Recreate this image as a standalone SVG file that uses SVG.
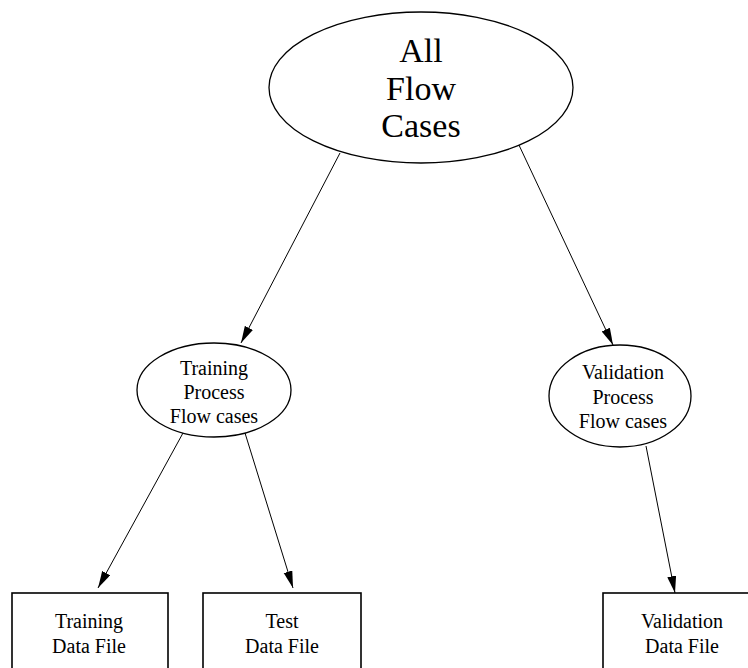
<svg xmlns="http://www.w3.org/2000/svg" width="748" height="668" viewBox="0 0 748 668">
  <style>
    .shape { fill: #fff; stroke: #000; stroke-width: 1.3; }
    .box { fill: #fff; stroke: #000; stroke-width: 1.6; }
    .lbl { font-family: "Liberation Serif", "Times New Roman", serif; fill: #000; text-anchor: middle; }
    .big { font-size: 34px; }
    .small { font-size: 20px; }
    .edge { stroke: #000; stroke-width: 1; fill: none; marker-end: url(#head); }
  </style>
  <defs>
    <marker id="head" markerUnits="userSpaceOnUse" markerWidth="18" markerHeight="10" refX="17" refY="4.5" orient="auto">
      <path d="M0,0 L17,4.5 L0,9 z" fill="#000"/>
    </marker>
  </defs>
  <rect width="748" height="668" fill="#fff"/>

  <g id="connectors">
    <line class="edge" x1="340" y1="153" x2="241" y2="343"/>
    <line class="edge" x1="518" y1="143" x2="613" y2="345"/>
    <line class="edge" x1="183" y1="433" x2="98" y2="588"/>
    <line class="edge" x1="245" y1="433" x2="293" y2="588"/>
    <line class="edge" x1="646" y1="446" x2="675" y2="593"/>
  </g>

  <g id="all-flow-cases">
    <ellipse class="shape" cx="421" cy="87.5" rx="152" ry="75.5"/>
    <text class="lbl big" x="421" y="62">All</text>
    <text class="lbl big" x="421" y="99.5">Flow</text>
    <text class="lbl big" x="421" y="137">Cases</text>
  </g>

  <g id="training-process">
    <ellipse class="shape" cx="214" cy="390" rx="77" ry="47"/>
    <text class="lbl small" x="214" y="375">Training</text>
    <text class="lbl small" x="214" y="399">Process</text>
    <text class="lbl small" x="214" y="423">Flow cases</text>
  </g>

  <g id="validation-process">
    <ellipse class="shape" cx="620" cy="396" rx="71" ry="51"/>
    <text class="lbl small" x="623" y="379">Validation</text>
    <text class="lbl small" x="623" y="404">Process</text>
    <text class="lbl small" x="623" y="428">Flow cases</text>
  </g>

  <g id="training-data-file">
    <rect class="box" x="12" y="593" width="156" height="95"/>
    <text class="lbl small" x="89" y="628">Training</text>
    <text class="lbl small" x="89" y="653">Data File</text>
  </g>

  <g id="test-data-file">
    <rect class="box" x="203" y="593" width="158" height="95"/>
    <text class="lbl small" x="282" y="628">Test</text>
    <text class="lbl small" x="282" y="653">Data File</text>
  </g>

  <g id="validation-data-file">
    <rect class="box" x="603" y="593" width="158" height="95"/>
    <text class="lbl small" x="682" y="628">Validation</text>
    <text class="lbl small" x="682" y="653">Data File</text>
  </g>
</svg>
